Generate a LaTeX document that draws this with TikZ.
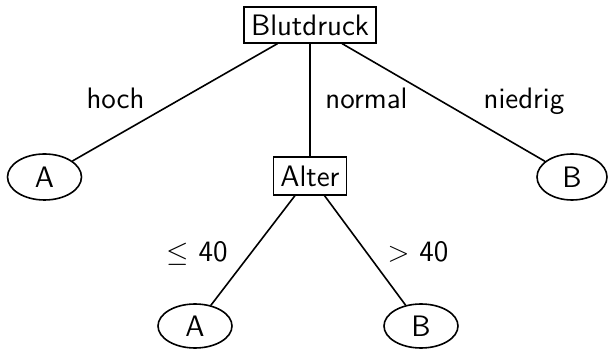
\documentclass[tikz,border=0pt]{standalone}
\usetikzlibrary{shapes.geometric}
\begin{document}
\begin{tikzpicture}[x=0.5pt,y=-0.5pt,
  every node/.style={font=\fontsize{14.8}{18}\selectfont\sffamily},
  boxnode/.style={draw,rectangle,line width=0.6pt,inner xsep=3.5pt,minimum height=18pt},
  leaf/.style={draw,ellipse,line width=0.8pt,minimum width=37pt,minimum height=23pt,inner sep=0pt},
  lbl/.style={anchor=base},
  edge/.style={line width=0.8pt}]
\useasboundingbox (0,0) rectangle (609,351);
\node[boxnode] (bd) at (310,25) {Blutdruck};
\node[leaf] (a1) at (44.5,177) {A};
\node[boxnode,minimum height=19pt] (alter) at (310,176) {Alter};
\node[leaf,minimum width=35pt] (b1) at (572,177) {B};
\node[leaf,minimum height=22pt] (a2) at (195,326) {A};
\node[leaf,minimum height=22pt] (b2) at (421,326) {B};
\draw[edge] (bd) -- (a1);
\draw[edge] (bd) -- (alter);
\draw[edge] (bd) -- (b1);
\draw[edge] (alter) -- (a2);
\draw[edge] (alter) -- (b2);
\node[lbl] (lhoch) at (115.5,109) {hoch};
\node[lbl] (lnormal) at (366.5,109) {normal};
\node[lbl] (lniedrig) at (524,109) {niedrig};
\node[lbl] (lle) at (197,262) {$\leq$ 40};
\node[lbl] (lgt) at (418,262) {$>$ 40};
\end{tikzpicture}
\end{document}
